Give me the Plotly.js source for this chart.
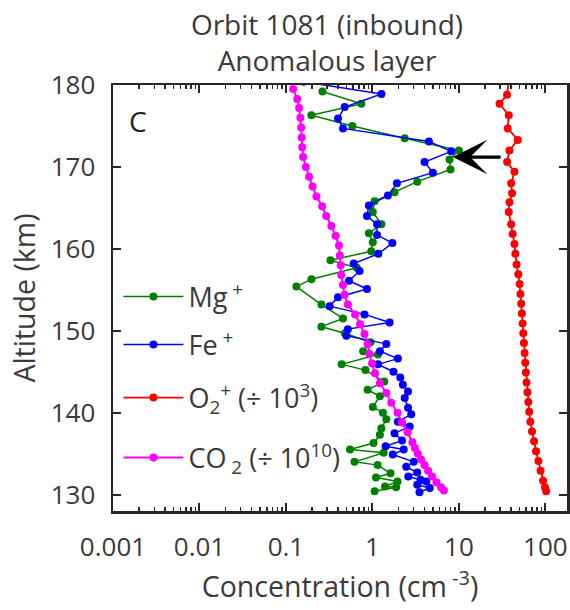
<!DOCTYPE html>
<html>
<head>
<meta charset="utf-8">
<script src="https://cdn.plot.ly/plotly-3.0.1.min.js"></script>
<style>html,body{margin:0;padding:0;background:#fff;}#chart{width:570px;height:610px;}</style>
</head>
<body>
<div id="chart"></div>
<script>
// Mg+ (green)
var mgAlt = [179.2,177.7,176.3,175.0,173.5,172.0,170.9,169.7,168.2,166.9,165.8,164.5,163.0,161.9,160.8,159.7,158.6,157.7,156.3,155.4,153.2,151.5,150.5,149.7,148.6,147.5,147.1,145.9,145.2,143.8,142.8,142.0,140.7,140.0,139.2,138.1,137.3,136.3,135.5,135.1,134.0,133.6,132.6,132.1,131.6,131.0,130.9,130.4];
var mgVal = [0.264,0.745,0.197,0.586,2.36,10.0,7.8,8.0,3.3,1.80,1.06,1.01,1.27,0.91,1.01,0.97,0.327,0.66,0.197,0.132,0.257,0.457,0.257,0.48,0.95,0.78,1.16,0.44,0.83,1.37,0.88,1.22,1.01,1.32,1.45,1.27,1.22,1.03,0.55,1.35,0.62,1.15,1.62,1.10,1.95,1.40,1.88,1.06];
// Fe+ (blue)
var feAlt = [180.4,178.9,177.3,175.9,174.7,173.1,171.9,170.6,169.3,168.0,166.5,165.3,164.0,163.0,161.7,160.7,159.4,158.2,157.3,156.1,155.1,154.1,153.0,152.0,151.0,150.2,149.4,148.4,147.5,146.6,145.9,145.0,144.3,143.4,142.6,141.8,140.6,139.8,138.9,138.3,137.5,136.6,135.9,135.5,134.9,134.0,133.4,132.7,132.2,131.8,131.6,131.2,130.8,130.3];
var feVal = [0.16,1.27,0.478,0.40,0.457,4.5,8.15,4.0,5.0,1.92,1.51,0.91,0.865,1.13,1.13,1.70,1.17,0.607,0.71,0.536,0.865,0.40,0.32,0.81,1.58,0.52,0.50,1.45,1.22,1.97,1.16,1.75,2.1,2.25,2.58,2.36,2.58,2.81,1.97,2.7,1.80,2.2,1.42,2.30,1.72,3.0,2.46,3.3,2.6,3.6,4.2,3.3,4.6,3.5];
// O2+ / 1e3 (red)
var o2Alt = [180.8,178.8,177.7,176.3,174.7,173.3,172.0,170.6,169.4,168.0,166.8,165.7,164.5,163.0,161.8,160.6,159.4,158.1,156.9,155.7,154.5,153.3,152.1,150.9,149.7,148.5,147.3,146.1,144.9,143.7,142.5,141.3,140.1,138.9,137.7,136.5,135.3,134.1,132.9,131.7,130.9,130.4];
var o2Val = [38,36,29.5,37.7,36.7,47.9,38.4,36.1,43.9,40.2,41.2,38.4,37.7,40.2,41.8,43.9,45,46.4,48.7,50.4,51.5,52.5,53.5,54.5,55.5,56.5,57.5,58.5,59.5,60.5,62,63.5,65,67,70,74,78,83,88,94,99,102];
// CO2 / 1e10 (magenta)
var co2Alt = [179.5,178.3,177.2,176.0,174.8,173.6,172.4,171.2,170.0,168.8,167.6,166.4,165.2,164.0,162.8,161.6,160.4,159.2,158.0,156.8,155.6,154.4,153.2,152.0,150.8,149.6,148.4,147.2,146.0,144.8,143.6,142.4,141.2,140.0,138.8,137.6,136.4,135.7,135.0,134.3,133.6,132.9,132.2,131.5,130.9,130.5];
var co2Val = [0.121,0.135,0.142,0.147,0.150,0.152,0.154,0.158,0.170,0.185,0.203,0.225,0.262,0.292,0.335,0.375,0.41,0.42,0.43,0.435,0.455,0.475,0.52,0.63,0.72,0.81,0.88,0.92,0.99,1.07,1.22,1.45,1.65,1.95,2.2,2.55,2.9,3.1,3.35,3.65,4.0,4.4,4.9,5.5,6.2,6.7];

var xTickVals = [0.001,0.01,0.1,1,10,100];
var xTickText = ['0.001','0.01','0.1','1','10','100'];
var yTickVals = [130,140,150,160,170,180];

var FONT = '"Open Sans", "Noto Sans", sans-serif';
var TXT = '#3a3a3a';
var AX = '#262626';

function tr(x, y, name, color, leg, lw, ms) {
  return {
    type: 'scatter', mode: 'lines+markers', x: x, y: y, name: name,
    line: {color: color, width: lw}, marker: {color: color, size: ms},
    legend: leg
  };
}

var data = [
  tr(o2Val, o2Alt, 'O<sub>2</sub><sup>+</sup> (÷ 10<sup>3</sup>)', '#FF0000', 'legend3', 1.8, 8),
  tr(mgVal, mgAlt, 'Mg<sup> +</sup>', '#008000', 'legend', 1.5, 8),
  tr(feVal, feAlt, 'Fe<sup> +</sup>', '#0000FF', 'legend2', 1.5, 8),
  tr(co2Val, co2Alt, 'CO<sub> 2</sub> (÷ 10<sup>10</sup>)', '#FF00FF', 'legend4', 2, 8)
];

function leg(yPix) {
  return {x: 0.012, xanchor: 'left', y: 1 - (yPix - 85) / 426, yanchor: 'middle',
          bgcolor: 'rgba(0,0,0,0)', borderwidth: 0,
          font: {family: FONT, size: 27, color: TXT}, itemwidth: 60};
}

var layout = {
  width: 570, height: 610,
  margin: {l: 113, r: 3, t: 85, b: 99},
  paper_bgcolor: '#fff', plot_bgcolor: '#fff',
  font: {family: FONT, color: TXT, size: 26},
  title: {text: 'Orbit 1081 (inbound)<br>Anomalous layer', x: 327/570, xanchor: 'center', yref: 'container', y: 1 - 34.5/610, yanchor: 'middle', font: {family: FONT, size: 28, color: TXT}},
  showlegend: true,
  legend: leg(297),
  legend2: leg(345),
  legend3: leg(398),
  legend4: leg(458),
  xaxis: {
    type: 'log', range: [-3, 2.25],
    tickmode: 'array', tickvals: xTickVals, ticktext: xTickText,
    ticks: 'inside', ticklen: 8, tickwidth: 2, tickcolor: AX,
    minor: {ticks: 'inside', ticklen: 4, tickwidth: 1.5, tickcolor: AX, dtick: 'D1', showgrid: false},
    showline: true, linewidth: 2.5, linecolor: AX, mirror: 'ticks',
    showgrid: false, zeroline: false,
    tickfont: {family: FONT, size: 26, color: TXT}, ticklabelstandoff: 11,
    title: {text: 'Concentration (cm<sup> -3</sup>)', font: {family: FONT, size: 28.5, color: TXT}, standoff: 0}
  },
  yaxis: {
    range: [128, 180], tickmode: 'array', tickvals: yTickVals,
    ticks: 'inside', ticklen: 8, tickwidth: 2, tickcolor: AX,
    showline: true, linewidth: 2.5, linecolor: AX, mirror: 'ticks',
    showgrid: false, zeroline: false,
    tickfont: {family: FONT, size: 26, color: TXT}, ticklabelstandoff: 10,
    title: {text: 'Altitude (km)', font: {family: FONT, size: 28.5, color: TXT}, standoff: 7}
  },
  annotations: [
    {xref: 'paper', yref: 'paper', x: 0.03, y: 0.965, xanchor: 'left', yanchor: 'top', text: 'C', showarrow: false, font: {family: FONT, size: 28, color: '#222'}},
    {xref: 'x', yref: 'y', axref: 'x', ayref: 'y', x: 0.93, y: 171.2, ax: 1.5, ay: 171.2, text: '', showarrow: true,
     arrowhead: 3, arrowsize: 1.8, arrowwidth: 3.2, arrowcolor: '#000'}
  ]
};

Plotly.newPlot('chart', data, layout, {displayModeBar: false, staticPlot: true});
</script>
</body>
</html>
